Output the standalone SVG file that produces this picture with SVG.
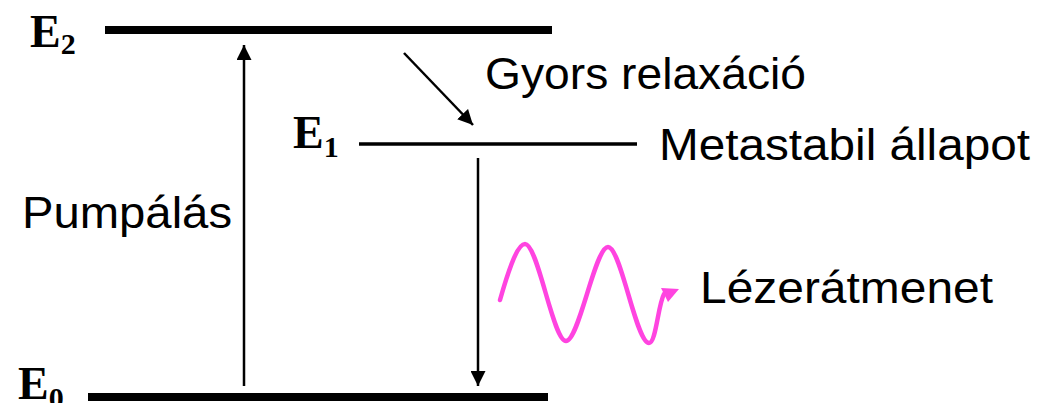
<svg xmlns="http://www.w3.org/2000/svg" width="1040" height="403" viewBox="0 0 1040 403">
<defs>
<style>
.lvl{stroke:#000;fill:none}
.lbl{font-family:"Liberation Serif","Times New Roman",serif;font-weight:bold;fill:#000}
.txt{font-family:"Liberation Sans",Arial,sans-serif;font-size:45px;fill:#000}
.arr{stroke:#000;stroke-width:2.5;fill:none}
.wave{stroke:#FF44E0;stroke-width:4.5;fill:none;stroke-linecap:round}
</style>
<marker id="ah" viewBox="0 0 10 10" refX="10" refY="5" markerWidth="15" markerHeight="15" markerUnits="userSpaceOnUse" orient="auto">
<path d="M0,0 L10,5 L0,10 Z" fill="#000"/>
</marker>
</defs>
<rect width="1040" height="403" fill="#fff"/>
<g id="level-E2">
<line class="lvl" x1="105" y1="30" x2="552" y2="30" stroke-width="8"/>
<text class="lbl" x="30" y="47" font-size="46">E<tspan font-size="30" dy="7">2</tspan></text>
</g>
<g id="level-E1">
<line class="lvl" x1="359" y1="144" x2="637" y2="144" stroke-width="3.5"/>
<text class="lbl" x="293" y="148" font-size="46">E<tspan font-size="30" dy="9">1</tspan></text>
</g>
<g id="level-E0">
<line class="lvl" x1="88" y1="397" x2="548" y2="397" stroke-width="8"/>
<text class="lbl" x="18" y="399" font-size="46">E<tspan font-size="30" dy="9">0</tspan></text>
</g>
<g id="label-pumpalas"><text class="txt" x="22" y="228" textLength="210" lengthAdjust="spacingAndGlyphs">Pumpálás</text></g>
<g id="label-gyors"><text class="txt" x="485" y="89" textLength="321" lengthAdjust="spacingAndGlyphs">Gyors relaxáció</text></g>
<g id="label-metastabil"><text class="txt" x="659" y="160" textLength="371" lengthAdjust="spacingAndGlyphs">Metastabil állapot</text></g>
<g id="label-lezer"><text class="txt" x="700" y="303" textLength="293" lengthAdjust="spacingAndGlyphs">Lézerátmenet</text></g>
<g id="connectors">
<line class="arr" x1="244" y1="386" x2="244" y2="45" marker-end="url(#ah)"/>
<line class="arr" x1="404" y1="53" x2="473" y2="125" marker-end="url(#ah)"/>
<line class="arr" x1="478" y1="158" x2="478" y2="386" marker-end="url(#ah)"/>
<path class="wave" d="M500,300 C510,265 518,244 525,244 C538,244 553,341 566,341 C579,341 595,247 608,247 C621,247 636,343 649,343 C656,343 658,305 664,294"/>
<path d="M661,288 L679,289 L668,302 Z" fill="#FF44E0"/>
</g>
</svg>
